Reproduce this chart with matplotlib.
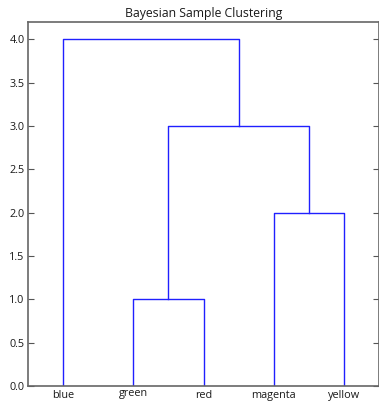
import matplotlib
matplotlib.use("Agg")
import matplotlib.pyplot as plt
from matplotlib.transforms import ScaledTranslation

# Leaves of the dendrogram and the merge heights
leaves = ["blue", "green", "red", "magenta", "yellow"]
# Each link: (left child x, right child x, left child height, right child height, merge height)
link_left_x = [15, 35, 20, 5]
link_right_x = [25, 45, 40, 30]
link_left_h = [0.0, 0.0, 1.0, 0.0]
link_right_h = [0.0, 0.0, 2.0, 3.0]
link_height = [1.0, 2.0, 3.0, 4.0]

plt.rcParams["font.family"] = ["Open Sans", "DejaVu Sans"]

fig = plt.figure(figsize=(3.79, 4.01), dpi=100)
ax = fig.add_axes([28 / 379, 15 / 401, 351 / 379, 364 / 401])

for xl, xr, hl, hr, h in zip(link_left_x, link_right_x, link_left_h, link_right_h, link_height):
    ax.plot([xl, xl, xr, xr], [hl, h, h, hr], color="#2020ff", lw=1.0)

leaf_pos = [5 + 10 * i for i in range(len(leaves))]
ax.set_xlim(0, 10 * len(leaves))
ax.set_ylim(0, max(link_height) * 1.05)
ax.set_xticks(leaf_pos)
ax.set_xticklabels(leaves, fontsize=7.8, color="#1a1a1a")
ax.set_yticks([0.5 * i for i in range(9)])
ax.set_yticklabels([f"{0.5 * i:.1f}" for i in range(9)], fontsize=7.8, color="#1a1a1a")
ax.tick_params(axis="x", length=0, pad=3.2)
ax.tick_params(axis="y", direction="in", length=4, width=0.8, color="#555555",
               right=True, pad=2.5)
for s in ax.spines.values():
    s.set_color("#666666")
    s.set_linewidth(1.2)

# labels without ascenders sit a little higher, aligned on their ink top
for lab in ax.get_xticklabels():
    if not any(c in lab.get_text() for c in "bdfhklt"):
        lab.set_transform(lab.get_transform() + ScaledTranslation(0, 2.5 / 100, fig.dpi_scale_trans))

ax.set_title("Bayesian Sample Clustering", fontsize=8.8, color="#1a1a1a", pad=3.5)

fig.savefig("out.png", dpi=100)
